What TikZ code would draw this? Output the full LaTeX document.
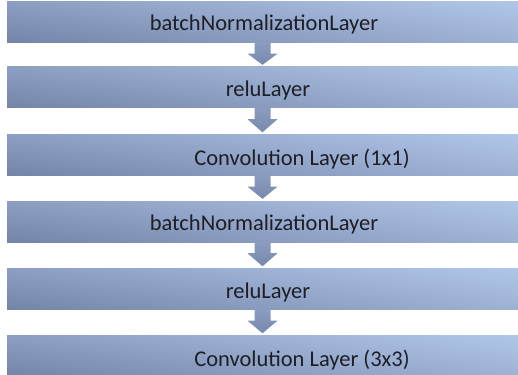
\documentclass[tikz,border=0pt]{standalone}
\usepackage{fontspec}
\setmainfont{Carlito}
\usetikzlibrary{calc,shadings}
\definecolor{barul}{HTML}{8C9FC2}
\definecolor{barur}{HTML}{B0C6E9}
\definecolor{barll}{HTML}{7385A7}
\definecolor{barlr}{HTML}{9DB1D4}
\definecolor{arrowtop}{HTML}{8A9DC0}
\definecolor{arrowbot}{HTML}{7689AD}
\definecolor{labelcol}{HTML}{1E1E26}
\newcommand{\layerarrow}[2]{%
	\shade [top color = arrowtop, bottom color = arrowbot] ($(#1.south)+(-8,0)$) -- ($(#1.south)+(-8,11)$) -- ($(#1.south)+(-15,11)$) -- ($(#2.north)+(0,-2)$) -- ($(#1.south)+(15,11)$) -- ($(#1.south)+(8,11)$) -- ($(#1.south)+(8,0)$) -- cycle;}
\begin{document}
\begin{tikzpicture}[x = 1pt, y = -1pt,
		layerbar/.style = {rectangle, inner sep = 0pt, minimum width = 511pt, minimum height = 41pt,
			upper left = barul, upper right = barur, lower left = barll, lower right = barlr},
		layertext/.style = {anchor = base, inner sep = 0pt, text = labelcol, font = \fontsize{22.5}{27}\selectfont}]
		\useasboundingbox (0,0) rectangle (518,374);
		\node [layerbar](bn1) at (262.5,22) {};
		\node [layerbar](relu1) at (262.5,87.5) {};
		\node [layerbar](conv1) at (262.5,155) {};
		\node [layerbar](bn2) at (262.5,221.5) {};
		\node [layerbar](relu2) at (262.5,289) {};
		\node [layerbar](conv3) at (262.5,356) {};
		\node [layertext](bn1_text) at (264,30.7) {batchNormalizationLayer};
		\node [layertext](relu1_text) at (268,96.5) {reluLayer};
		\node [layertext](conv1_text) at (302,165) {Convolution Layer (1x1)};
		\node [layertext](bn2_text) at (264,230) {batchNormalizationLayer};
		\node [layertext](relu2_text) at (268,298) {reluLayer};
		\node [layertext](conv3_text) at (302,366.5) {Convolution Layer (3x3)};
		\layerarrow{bn1}{relu1}
		\layerarrow{relu1}{conv1}
		\layerarrow{conv1}{bn2}
		\layerarrow{bn2}{relu2}
		\layerarrow{relu2}{conv3}
\end{tikzpicture}
\end{document}
